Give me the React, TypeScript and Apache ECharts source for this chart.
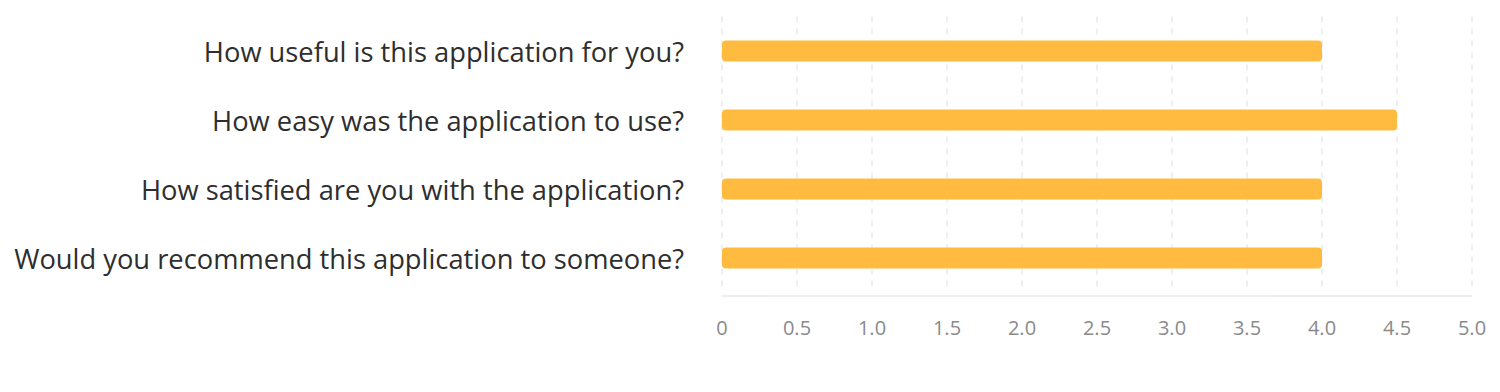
import React, { useEffect, useRef } from "react";
import * as echarts from "echarts";

const questions = [
  "How useful is this application for you?",
  "How easy was the application to use?",
  "How satisfied are you with the application?",
  "Would you recommend this application to someone?",
];
const scores = [4.0, 4.5, 4.0, 4.0];
const axisMin = 0;
const axisMax = 5;
const axisStep = 0.5;

export default function App() {
  const ref = useRef<HTMLDivElement>(null);
  useEffect(() => {
    document.body.style.margin = "0";
    const chart = echarts.init(ref.current!, null, { renderer: "svg" });
    chart.setOption({
      animation: false,
      textStyle: { fontFamily: "Open Sans" },
      grid: { left: 722, right: 28, top: 16.5, height: 276, containLabel: false },
      xAxis: {
        type: "value",
        min: axisMin,
        max: axisMax,
        interval: axisStep,
        offset: 3.5,
        axisLine: { show: true, lineStyle: { color: "#e6e8ef", width: 1.5 } },
        axisTick: { show: false },
        axisLabel: {
          color: "#8a8a8a",
          fontSize: 20,
          fontFamily: "Open Sans",
          margin: 21,
          formatter: (v: number) => (v === 0 ? "0" : v.toFixed(1)),
        },
        splitLine: { show: true, lineStyle: { color: "#e8eaf0", type: [6, 6], width: 1.5 } },
      },
      yAxis: {
        type: "category",
        data: questions,
        inverse: true,
        axisLine: { show: false },
        axisTick: { show: false },
        axisLabel: { color: "#2e2e2e", fontSize: 27.3, fontFamily: "Open Sans", margin: 38 },
        splitLine: { show: false },
      },
      series: [
        {
          type: "bar",
          data: scores,
          barWidth: 21,
          itemStyle: { color: "#ffbb40", borderRadius: 4 },
        },
      ],
    });
    return () => chart.dispose();
  }, []);
  return <div ref={ref} style={{ width: 1500, height: 392 }} />;
}
